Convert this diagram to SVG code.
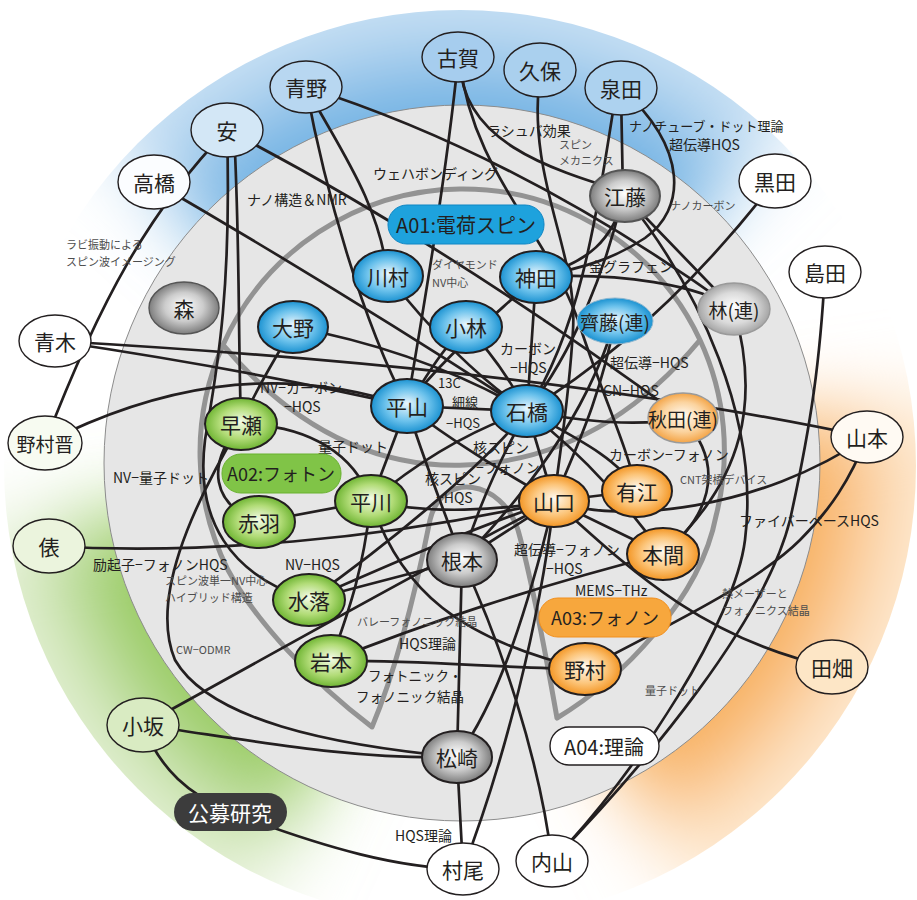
<svg xmlns="http://www.w3.org/2000/svg" width="917" height="900" viewBox="0 0 917 900">
<defs>
<style>
.c{fill:none;stroke:#231f20;stroke-width:2.7;stroke-linecap:round;stroke-linejoin:round}
.lobe{fill:none;stroke:#939393;stroke-width:5;stroke-linejoin:round}
text{font-family:'Noto Sans CJK JP','Noto Sans CJK SC',sans-serif}
.nt{font-size:21px;fill:#231f20;text-anchor:middle;dominant-baseline:central}
.nr{font-size:19px;fill:#231f20;text-anchor:middle;dominant-baseline:central}
.lb{font-size:14px;fill:#231f20;dominant-baseline:central}
.sm{font-size:11px;fill:#4d4d4d;dominant-baseline:central}
.bx{font-size:18px;fill:#231f20;text-anchor:middle;dominant-baseline:central}
.on{stroke:#231f20;stroke-width:1.4}
.nb{fill:url(#gB);stroke:#231f20;stroke-width:2}
.ng{fill:url(#gG);stroke:#231f20;stroke-width:2}
.no{fill:url(#gO);stroke:#231f20;stroke-width:2}
.nk{fill:url(#gK);stroke:#231f20;stroke-width:2}
</style>
<radialGradient id="gB" cx="50%" cy="50%" r="50%" fx="50%" fy="45%"><stop offset="0" stop-color="#e9f6fd"/><stop offset="0.6" stop-color="#6cc2ec"/><stop offset="1" stop-color="#1b92d1"/></radialGradient>
<radialGradient id="gG" cx="50%" cy="50%" r="50%" fx="50%" fy="45%"><stop offset="0" stop-color="#f4fbe9"/><stop offset="0.6" stop-color="#b2dc78"/><stop offset="1" stop-color="#6fb533"/></radialGradient>
<radialGradient id="gO" cx="50%" cy="50%" r="50%" fx="50%" fy="45%"><stop offset="0" stop-color="#fffaf2"/><stop offset="0.6" stop-color="#fcc57a"/><stop offset="1" stop-color="#f39625"/></radialGradient>
<radialGradient id="gO2" cx="50%" cy="50%" r="50%" fx="50%" fy="45%"><stop offset="0" stop-color="#fffaf2"/><stop offset="0.6" stop-color="#fbd39e"/><stop offset="1" stop-color="#f4a446"/></radialGradient>
<radialGradient id="gK" cx="50%" cy="50%" r="50%" fx="50%" fy="45%"><stop offset="0" stop-color="#ffffff"/><stop offset="0.55" stop-color="#cccccc"/><stop offset="1" stop-color="#7d7d7d"/></radialGradient>
<radialGradient id="gS" cx="50%" cy="50%" r="50%" fx="50%" fy="45%"><stop offset="0" stop-color="#ffffff"/><stop offset="0.6" stop-color="#dadada"/><stop offset="1" stop-color="#a5a5a5"/></radialGradient>
<radialGradient id="rB" gradientUnits="userSpaceOnUse" cx="460" cy="466" r="456"><stop offset="0.79" stop-color="#6aafe2"/><stop offset="1" stop-color="#cde3f5"/></radialGradient>
<radialGradient id="rG" gradientUnits="userSpaceOnUse" cx="460" cy="466" r="456"><stop offset="0.79" stop-color="#94c95a"/><stop offset="1" stop-color="#e6f1d8"/></radialGradient>
<radialGradient id="rO" gradientUnits="userSpaceOnUse" cx="460" cy="466" r="456"><stop offset="0.79" stop-color="#f7ac55"/><stop offset="1" stop-color="#feecd6"/></radialGradient>
<filter id="bl" filterUnits="userSpaceOnUse" x="-300" y="-300" width="1500" height="1500"><feGaussianBlur stdDeviation="40"/></filter>
<clipPath id="oc"><circle cx="460" cy="466" r="456"/></clipPath>
</defs>
<rect width="917" height="900" fill="#ffffff"/>
<g id="background">
<g clip-path="url(#oc)">
<g filter="url(#bl)">
<path d="M460,466 L56,95 A560,560 0 0 1 849,63 Z" fill="url(#rB)"/>
<path d="M460,466 L223,973 A560,560 0 0 1 -96,544 Z" fill="url(#rG)"/>
<path d="M460,466 L1015,388 A560,560 0 0 1 723,960 Z" fill="url(#rO)"/>
</g>
</g>
<circle cx="462" cy="463" r="358" fill="#e6e6e6" stroke="#8c8c8c" stroke-width="1"/>
<path d="M223,345 A262,262 0 0 1 700,340 A262,262 0 0 1 716,516 C700,600 620,680 557,718 C545,650 532,580 518,530 C502,480 442,470 430,520 C418,580 400,660 372,727 C310,680 255,620 228,570 A262,262 0 0 1 223,345 Z" fill="#ffffff" class="lobe"/>
<path d="M223,345 Q330,470 465,465 Q600,460 700,340" class="lobe"/>
</g>
<g id="connectors">
<path class="c" d="M458,60 C447,170 425,300 407,406"/>
<path class="c" d="M460,62 C462,140 545,168 625,192"/>
<path class="c" d="M460,62 C472,170 545,230 578,320 C600,390 625,440 637,491"/>
<path class="c" d="M540,72 C526,180 578,250 573,330 C569,400 560,450 554,501"/>
<path class="c" d="M616,92 C596,220 580,330 527,411"/>
<path class="c" d="M621,92 L623,196"/>
<path class="c" d="M621,88 C690,150 685,210 645,238 C615,258 585,268 536,277"/>
<path class="c" d="M625,196 C612,240 590,262 536,277"/>
<path class="c" d="M622,200 C605,270 575,350 527,411"/>
<path class="c" d="M625,196 L734,309"/>
<path class="c" d="M625,196 C700,290 760,420 745,540 C735,620 640,770 552,861"/>
<path class="c" d="M306,87 C340,150 378,200 388,276"/>
<path class="c" d="M306,87 C325,190 362,320 407,406"/>
<path class="c" d="M306,87 Q520,155 734,309"/>
<path class="c" d="M154,182 Q340,290 527,411"/>
<path class="c" d="M227,130 C150,210 100,300 45,443"/>
<path class="c" d="M234,130 C240,250 238,330 241,424"/>
<path class="c" d="M227,130 C232,300 215,380 205,440 C195,520 230,575 309,600"/>
<path class="c" d="M227,130 Q440,240 683,418"/>
<path class="c" d="M293,327 C275,360 255,390 241,424"/>
<path class="c" d="M241,424 C205,465 212,505 259,522"/>
<path class="c" d="M241,424 C310,425 355,455 371,501"/>
<path class="c" d="M241,424 C190,510 150,600 175,660 C210,720 330,745 457,757"/>
<path class="c" d="M293,327 Q420,350 527,411"/>
<path class="c" d="M55,341 C300,355 600,380 867,437"/>
<path class="c" d="M55,341 Q250,370 407,406"/>
<path class="c" d="M45,443 C150,390 270,360 407,406"/>
<path class="c" d="M49,546 C200,555 380,540 554,501"/>
<path class="c" d="M309,600 C400,560 480,525 554,501"/>
<path class="c" d="M309,600 L462,560"/>
<path class="c" d="M259,522 L371,501"/>
<path class="c" d="M371,501 L407,406"/>
<path class="c" d="M371,501 C420,460 470,430 527,411"/>
<path class="c" d="M371,501 C430,515 500,510 554,501"/>
<path class="c" d="M371,501 C362,580 345,620 331,661"/>
<path class="c" d="M371,501 C400,590 460,640 585,669"/>
<path class="c" d="M331,661 C420,660 500,668 585,669"/>
<path class="c" d="M331,661 C420,625 540,585 663,554"/>
<path class="c" d="M462,560 L457,757"/>
<path class="c" d="M457,757 L463,869"/>
<path class="c" d="M457,757 C500,700 530,600 554,501"/>
<path class="c" d="M143,725 C250,740 350,760 457,757"/>
<path class="c" d="M143,725 C160,770 190,795 230,812"/>
<path class="c" d="M230,812 C330,850 400,868 463,869"/>
<path class="c" d="M143,725 C280,650 420,570 554,501"/>
<path class="c" d="M462,560 C440,500 420,450 407,406"/>
<path class="c" d="M462,560 C480,500 505,450 527,411"/>
<path class="c" d="M462,560 L554,501"/>
<path class="c" d="M462,560 C500,640 540,760 552,861"/>
<path class="c" d="M463,869 C505,760 540,620 554,501"/>
<path class="c" d="M554,501 L663,554"/>
<path class="c" d="M554,501 C620,560 700,640 832,667"/>
<path class="c" d="M554,501 C620,525 760,510 867,437"/>
<path class="c" d="M683,418 C730,470 705,520 663,554"/>
<path class="c" d="M734,309 C760,400 745,480 663,554"/>
<path class="c" d="M585,669 C680,620 760,580 800,540 C830,510 850,480 867,437"/>
<path class="c" d="M775,181 Q660,330 527,411"/>
<path class="c" d="M536,277 L527,411"/>
<path class="c" d="M536,277 C620,272 700,285 734,309"/>
<path class="c" d="M388,276 C430,330 480,380 527,411"/>
<path class="c" d="M466,327 C440,350 425,380 407,406"/>
<path class="c" d="M466,327 C490,350 510,380 527,411"/>
<path class="c" d="M407,406 L527,411"/>
<path class="c" d="M615,321 C600,400 575,450 554,501"/>
<path class="c" d="M615,321 C585,420 520,500 462,560"/>
<path class="c" d="M527,411 C580,440 620,460 637,491"/>
<path class="c" d="M527,411 C600,425 650,425 683,418"/>
<path class="c" d="M527,411 C590,460 630,510 663,554"/>
<path class="c" d="M527,411 L554,501"/>
<path class="c" d="M527,411 C480,470 380,550 309,600"/>
<path class="c" d="M407,406 C450,440 500,470 554,501"/>
<path class="c" d="M825,272 C820,360 812,420 790,520 C765,620 650,760 552,861"/>
<path class="c" d="M554,501 L637,491"/>
<path class="c" d="M536,277 C490,320 440,360 407,406"/>
</g>
<g id="labels">
<text class="lb" x="247" y="199">ナノ構造＆NMR</text>
<text class="lb" x="373" y="173">ウェハボンディング</text>
<text class="lb" x="487" y="130">ラシュバ効果</text>
<text class="lb" x="629" y="125" style="font-size:13px">ナノチューブ・ドット理論</text>
<text class="lb" x="669" y="144">超伝導HQS</text>
<text class="lb" x="589" y="266">金グラフェン</text>
<text class="lb" x="500" y="348">カーボン</text>
<text class="lb" x="510" y="367">−HQS</text>
<text class="lb" x="438" y="382" style="font-size:13px">13C</text>
<text class="lb" x="452" y="401" style="font-size:13px">細線</text>
<text class="lb" x="446" y="422" style="font-size:13px">−HQS</text>
<text class="lb" x="610" y="362">超伝導−HQS</text>
<text class="lb" x="603" y="390">CN−HQS</text>
<text class="lb" x="609" y="454">カーボン−フォノン</text>
<text class="lb" x="260" y="387">NV−カーボン</text>
<text class="lb" x="284" y="406">−HQS</text>
<text class="lb" x="318" y="446">量子ドット</text>
<text class="lb" x="113" y="477">NV−量子ドット</text>
<text class="lb" x="473" y="447">核スピン</text>
<text class="lb" x="476" y="467">−フォノン</text>
<text class="lb" x="425" y="478">核スピン</text>
<text class="lb" x="436" y="497">−HQS</text>
<text class="lb" x="514" y="549">超伝導−フォノン</text>
<text class="lb" x="546" y="568">−HQS</text>
<text class="lb" x="575" y="590">MEMS−THz</text>
<text class="lb" x="739" y="520">ファイバーベースHQS</text>
<text class="lb" x="93" y="564">励起子−フォノンHQS</text>
<text class="lb" x="285" y="564">NV−HQS</text>
<text class="lb" x="399" y="643">HQS理論</text>
<text class="lb" x="368" y="675" style="font-size:13.5px">フォトニック・</text>
<text class="lb" x="356" y="696" style="font-size:13.5px">フォノニック結晶</text>
<text class="lb" x="395" y="835">HQS理論</text>
<text class="sm" x="559" y="144">スピン</text>
<text class="sm" x="559" y="160">メカニクス</text>
<text class="sm" x="670" y="205">ナノカーボン</text>
<text class="sm" x="66" y="244">ラビ振動による</text>
<text class="sm" x="66" y="261">スピン波イメージング</text>
<text class="sm" x="432" y="264">ダイヤモンド</text>
<text class="sm" x="432" y="282">NV中心</text>
<text class="sm" x="680" y="479">CNT架橋デバイス</text>
<text class="sm" x="165" y="580">スピン波単一NV中心</text>
<text class="sm" x="165" y="597">ハイブリッド構造</text>
<text class="sm" x="176" y="649">CW−ODMR</text>
<text class="sm" x="357" y="621">バレーフォノニック結晶</text>
<text class="sm" x="722" y="593">熱メーザーと</text>
<text class="sm" x="722" y="610">フォノニクス結晶</text>
<text class="sm" x="645" y="690">量子ドット</text>
</g>
<g id="nodes">
<g id="koga"><ellipse cx="458" cy="57" rx="36" ry="25" class="on" fill="#a6cdee"/><text class="nt" x="458" y="57">古賀</text></g>
<g id="kubo"><ellipse cx="540" cy="70" rx="36" ry="27" class="on" fill="#aad0ee"/><text class="nt" x="540" y="70">久保</text></g>
<g id="izumida"><ellipse cx="621" cy="88" rx="36" ry="27" class="on" fill="#add2ef"/><text class="nt" x="621" y="88">泉田</text></g>
<g id="aono"><ellipse cx="306" cy="87" rx="36" ry="26" class="on" fill="#b8d7f1"/><text class="nt" x="306" y="87">青野</text></g>
<g id="an"><ellipse cx="227" cy="130" rx="36" ry="27" class="on" fill="#d3e7f6"/><text class="nt" x="227" y="130">安</text></g>
<g id="takahashi"><ellipse cx="154" cy="182" rx="36" ry="27" class="on" fill="#fbfdff"/><text class="nt" x="154" y="182">高橋</text></g>
<g id="kuroda"><ellipse cx="775" cy="181" rx="36" ry="27" class="on" fill="#ffffff"/><text class="nt" x="775" y="181">黒田</text></g>
<g id="shimada"><ellipse cx="825" cy="272" rx="36" ry="26" class="on" fill="#ffffff"/><text class="nt" x="825" y="272">島田</text></g>
<g id="aoki"><ellipse cx="55" cy="341" rx="36" ry="26" class="on" fill="#ffffff"/><text class="nt" x="55" y="341">青木</text></g>
<g id="nomurashin"><ellipse cx="45" cy="443" rx="37" ry="27" class="on" fill="#f7fbf1"/><text class="nt" x="45" y="443" style="font-size:19px">野村晋</text></g>
<g id="yamamoto"><ellipse cx="867" cy="437" rx="36" ry="26" class="on" fill="#fffaf3"/><text class="nt" x="867" y="437">山本</text></g>
<g id="tawara"><ellipse cx="49" cy="546" rx="36" ry="27" class="on" fill="#ebf4dd"/><text class="nt" x="49" y="546">俵</text></g>
<g id="tabata"><ellipse cx="832" cy="667" rx="36" ry="27" class="on" fill="#fde6c6"/><text class="nt" x="832" y="667">田畑</text></g>
<g id="kosaka"><ellipse cx="143" cy="725" rx="36" ry="27" class="on" fill="#d9ebc2"/><text class="nt" x="143" y="725">小坂</text></g>
<g id="murao"><ellipse cx="463" cy="869" rx="36" ry="26" class="on" fill="#ffffff"/><text class="nt" x="463" y="869">村尾</text></g>
<g id="uchiyama"><ellipse cx="552" cy="861" rx="36" ry="26" class="on" fill="#ffffff"/><text class="nt" x="552" y="861">内山</text></g>
<g id="koubo"><rect x="174" y="793" width="113" height="38" rx="19" fill="#3c3c3c"/><text class="nt" x="230" y="812" style="fill:#ffffff">公募研究</text></g>
<g id="a04"><rect x="550" y="727" width="109" height="38" rx="19" fill="#ffffff" stroke="#231f20" stroke-width="1.4"/><text class="bx" x="604" y="746" style="font-size:20px">A04:理論</text></g>
<g id="a01"><rect x="388" y="205" width="156" height="39" rx="19" fill="#1ea2dd" stroke="#0f86c4" stroke-width="1"/><text class="bx" x="466" y="224" style="font-size:20px">A01:電荷スピン</text></g>
<g id="a02"><rect x="222" y="454" width="119" height="39" rx="19" fill="#80c447" stroke="#69b22f" stroke-width="1"/><text class="bx" x="281" y="473">A02:フォトン</text></g>
<g id="a03"><rect x="539" y="598" width="132" height="39" rx="19" fill="#f7a73d" stroke="#f28f1c" stroke-width="1"/><text class="bx" x="605" y="617">A03:フォノン</text></g>
<g id="kawamura"><ellipse cx="388" cy="276" rx="35" ry="26" class="nb"/><text class="nt" x="388" y="276">川村</text></g>
<g id="kanda"><ellipse cx="536" cy="277" rx="36" ry="26" class="nb"/><text class="nt" x="536" y="277">神田</text></g>
<g id="kobayashi"><ellipse cx="466" cy="327" rx="36" ry="26" class="nb"/><text class="nt" x="466" y="327">小林</text></g>
<g id="ohno"><ellipse cx="293" cy="327" rx="35" ry="26" class="nb"/><text class="nt" x="293" y="327">大野</text></g>
<g id="hirayama"><ellipse cx="407" cy="406" rx="36" ry="27" class="nb" stroke-width="3"/><text class="nt" x="407" y="406">平山</text></g>
<g id="ishibashi"><ellipse cx="527" cy="411" rx="36" ry="26" class="nb" stroke-width="3"/><text class="nt" x="527" y="411">石橋</text></g>
<g id="saito"><ellipse cx="615" cy="321" rx="38" ry="23" fill="url(#gB)" stroke="#8fb7cf" stroke-width="1"/><text class="nr" x="615" y="321">齊藤(連)</text></g>
<g id="hayase"><ellipse cx="241" cy="424" rx="36" ry="26" class="ng"/><text class="nt" x="241" y="424">早瀬</text></g>
<g id="akabane"><ellipse cx="259" cy="522" rx="36" ry="26" class="ng"/><text class="nt" x="259" y="522">赤羽</text></g>
<g id="hirakawa"><ellipse cx="371" cy="501" rx="36" ry="26" class="ng" stroke-width="3"/><text class="nt" x="371" y="501">平川</text></g>
<g id="mizuochi"><ellipse cx="309" cy="600" rx="36" ry="26" class="ng"/><text class="nt" x="309" y="600">水落</text></g>
<g id="iwamoto"><ellipse cx="331" cy="661" rx="36" ry="26" class="ng"/><text class="nt" x="331" y="661">岩本</text></g>
<g id="yamaguchi"><ellipse cx="554" cy="501" rx="35" ry="26" class="no" stroke-width="3"/><text class="nt" x="554" y="501">山口</text></g>
<g id="arie"><ellipse cx="637" cy="491" rx="35" ry="26" class="no" stroke-width="1.4"/><text class="nt" x="637" y="491">有江</text></g>
<g id="homma"><ellipse cx="663" cy="554" rx="36" ry="26" class="no"/><text class="nt" x="663" y="554">本間</text></g>
<g id="nomura"><ellipse cx="585" cy="669" rx="36" ry="26" class="no"/><text class="nt" x="585" y="669">野村</text></g>
<g id="akita"><ellipse cx="683" cy="418" rx="35" ry="25" fill="url(#gO2)" stroke="#9a9a9a" stroke-width="1.4"/><text class="nr" x="683" y="418">秋田(連)</text></g>
<g id="nemoto"><ellipse cx="462" cy="560" rx="35" ry="27" class="nk" stroke-width="3"/><text class="nt" x="462" y="560">根本</text></g>
<g id="matsuzaki"><ellipse cx="457" cy="757" rx="35" ry="26" class="nk" stroke-width="1.4"/><text class="nt" x="457" y="757">松崎</text></g>
<g id="eto"><ellipse cx="625" cy="196" rx="35" ry="26" fill="url(#gK)" stroke="#555555" stroke-width="2"/><text class="nt" x="625" y="196">江藤</text></g>
<g id="mori"><ellipse cx="184" cy="308" rx="35" ry="26" fill="url(#gK)" stroke="#555555" stroke-width="1.4"/><text class="nt" x="184" y="308">森</text></g>
<g id="hayashi"><ellipse cx="734" cy="309" rx="36" ry="26" fill="url(#gS)" stroke="#9a9a9a" stroke-width="1.4"/><text class="nr" x="734" y="309">林(連)</text></g>
</g>
</svg>
